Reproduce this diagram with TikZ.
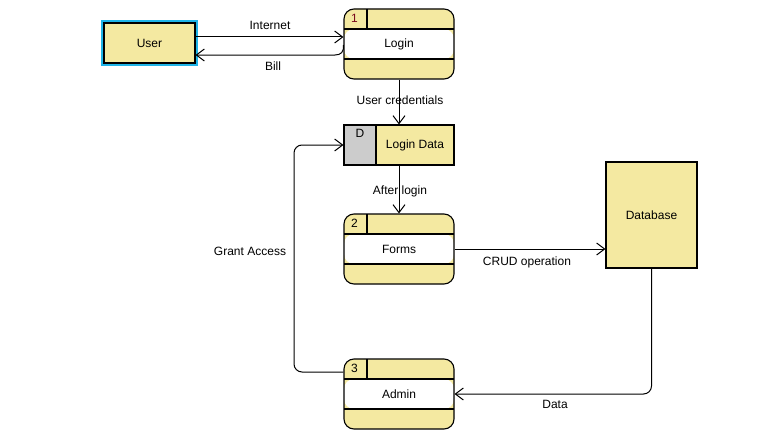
\documentclass[tikz,border=0pt]{standalone}
\usepackage{fontspec}
\setmainfont{Liberation Sans}
\usetikzlibrary{arrows.meta,calc}
\definecolor{procyellow}{HTML}{F4E9A1}
\definecolor{storegray}{HTML}{CCCCCC}
\definecolor{selcyan}{HTML}{1EB4E8}
\definecolor{numred}{HTML}{7A0A1E}
\tikzset{
  every node/.style={font=\fontsize{12pt}{14pt}\selectfont, inner sep=0pt},
  proc/.style={draw, line width=1.1pt, rounded corners=10pt, fill=procyellow,
    minimum width=110pt, minimum height=70pt,
    path picture={
      \fill[white] ([yshift=-20pt]path picture bounding box.north west) rectangle ([yshift=20pt]path picture bounding box.south east);
      \draw[line width=1.1pt] ([yshift=-20pt]path picture bounding box.north west) -- ([yshift=-20pt]path picture bounding box.north east);
      \draw[line width=1.1pt] ([yshift=20pt]path picture bounding box.south west) -- ([yshift=20pt]path picture bounding box.south east);
      \draw[line width=1.1pt] ([xshift=23pt]path picture bounding box.north west) -- ([xshift=23pt,yshift=-20pt]path picture bounding box.north west);
    }},
  store/.style={draw, line width=1.1pt, fill=procyellow, minimum width=110pt, minimum height=40pt,
    path picture={
      \fill[storegray] (path picture bounding box.north west) rectangle ([xshift=32pt]path picture bounding box.south west);
      \draw[line width=1.1pt] ([xshift=32pt]path picture bounding box.north west) -- ([xshift=32pt]path picture bounding box.south west);
    }},
  entity/.style={draw, line width=1.1pt, fill=procyellow},
  num/.style={anchor=center},
  arr/.style={draw, line width=1pt, -{Straight Barb[length=8pt,width=12pt,line width=1pt]}},
  lbl/.style={anchor=center}
}
\begin{document}
\begin{tikzpicture}[x=1pt,y=-1pt]
\useasboundingbox (0,0) rectangle (775,436);
\fill[white] (0,0) rectangle (775,436);

% User (selected)
\draw[selcyan, line width=2pt] (102,21) rectangle (197,65);
\node[entity, minimum width=91pt, minimum height=40pt] (user) at (149.5,43) {User};

% processes
\node[proc] (login) at (399,44) {Login};
\node[num, text=numred] (n1) at ([xshift=11pt,yshift=-10pt]login.north west) {1};

\node[proc] (forms) at (399,249) {Forms};
\node[num] (n2) at ([xshift=11pt,yshift=-10pt]forms.north west) {2};

\node[proc] (admin) at (399,394) {Admin};
\node[num] (n3) at ([xshift=11pt,yshift=-10pt]admin.north west) {3};

% data store
\node[store] (ld) at (399,145) {};
\node[lbl] (ldtext) at (415,145) {Login Data};
\node[anchor=center] (ldD) at (360,133) {D};

% database
\node[entity, minimum width=91pt, minimum height=106pt] (db) at (651.5,215) {Database};

% connectors
\draw[arr] (user.east |- 0,37) -- (login.west |- 0,37);
\node[lbl] (linternet) at (270,25) {Internet};

\draw[arr] (login.west |- 0,45) .. controls (344,52) and (341,55) .. (335,55) -- (user.east |- 0,55);
\node[lbl] (lbill) at (273,66) {Bill};

\draw[arr] (login.south) -- (ld.north);
\node[lbl] (lcred) at (400,100) {User credentials};

\draw[arr] (ld.south) -- (forms.north);
\node[lbl] (lafter) at (400,191) {After login};

\draw[arr] (forms.east) -- (db.west |- forms.east);
\node[lbl] (lcrud) at (527,262) {CRUD operation};

\draw[arr, rounded corners=8pt] (db.south) |- (admin.east);
\node[lbl] (ldata) at (555,404) {Data};

\coordinate (gacorner) at (294,145);
\draw[arr, rounded corners=8pt] (admin.west |- 0,372) -| (gacorner) -- (ld.west);
\node[lbl] (lgrant) at (250,251) {Grant Access};
\end{tikzpicture}
\end{document}
